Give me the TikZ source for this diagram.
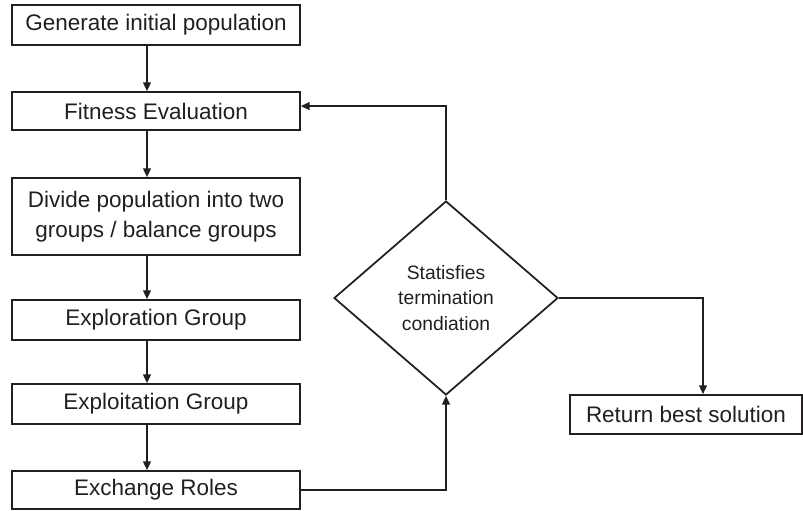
\documentclass[tikz,border=0pt]{standalone}
\usepackage{fontspec}
\setmainfont{Liberation Sans}
\usetikzlibrary{shapes.geometric,arrows.meta}
\definecolor{ink}{RGB}{35,31,32}
\tikzset{
  stage/.style={draw=ink,line width=1pt,text=ink,align=center,inner sep=0pt,
    minimum width=5.76cm,font=\fontsize{12.8}{17}\selectfont},
  test/.style={draw=ink,line width=1pt,text=ink,align=center,shape=diamond,
    inner sep=0pt,aspect=1.155,minimum width=4.48cm,minimum height=3.88cm,
    font=\fontsize{11}{14.7}\selectfont},
  arr/.style={draw=ink,line width=0.8pt,-{Triangle[length=5pt,width=4.5pt]}}
}
\begin{document}
\begin{tikzpicture}[x=0.02cm,y=-0.02cm]
\useasboundingbox (0,0) rectangle (803,510);
\node[stage,minimum height=0.8cm] (gen) at (156,25) {Generate initial population};
\node[stage,minimum height=0.76cm] (fit) at (156,111) {Fitness Evaluation};
\node[stage,minimum height=1.54cm] (div) at (156,216.5) {Divide population into two\\groups / balance groups};
\node[stage,minimum height=0.8cm] (expl) at (156,320) {Exploration Group};
\node[stage,minimum height=0.8cm] (expt) at (156,404) {Exploitation Group};
\node[stage,minimum height=0.76cm] (exch) at (156,490) {Exchange Roles};
\node[test] (dec) at (446,298) {Statisfies\\termination\\condiation};
\node[stage,minimum width=4.64cm,minimum height=0.78cm] (ret) at (686,414.5) {Return best solution};
% arrow lines
\coordinate (ax) at (147,0);
\coordinate (rx) at (703,0);
\draw[arr] (gen.south -| ax) -- (fit.north -| ax);
\draw[arr] (fit.south -| ax) -- (div.north -| ax);
\draw[arr] (div.south -| ax) -- (expl.north -| ax);
\draw[arr] (expl.south -| ax) -- (expt.north -| ax);
\draw[arr] (expt.south -| ax) -- (exch.north -| ax);
\draw[arr] (exch.east) -| (dec.south);
\draw[arr] (dec.north) |- ([yshift=2.8pt]fit.east);
\draw[arr] (dec.east) -| (ret.north -| rx);
\end{tikzpicture}
\end{document}
